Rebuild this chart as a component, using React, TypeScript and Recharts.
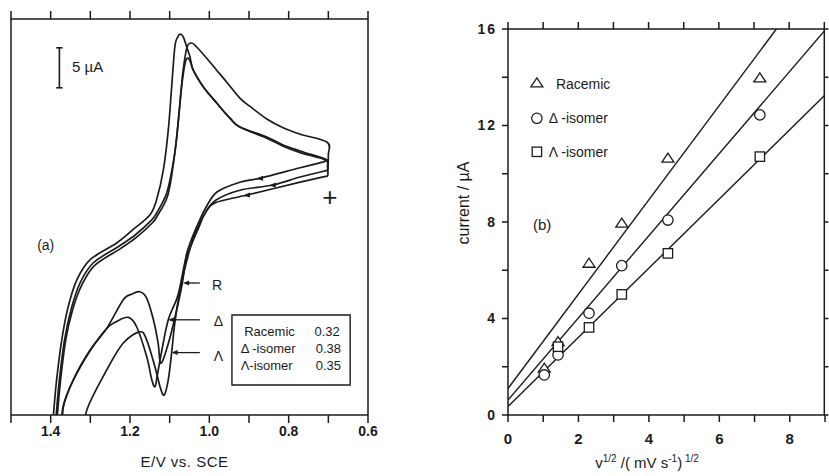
import {
  ComposedChart,
  Line,
  ReferenceArea,
  ReferenceDot,
  ReferenceLine,
  Scatter,
  XAxis,
  YAxis,
} from "recharts";

const INK = "#1b1b1b";
const FONT = '"Liberation Sans", Arial, Helvetica, sans-serif';

// ---- panel (a): cyclic voltammograms, [E / V vs SCE, current / µA above frame bottom]
// each loop: lower sweep from 0.7 V out past 1.38 V, then upper sweep back to 0.7 V
const racemicCV: [number, number][] = [
  [0.714, 31.6], [0.771, 30.9], [0.872, 29.6], [0.923, 29.1], [0.98, 27.9], [1.008, 26],
  [1.024, 24.4], [1.043, 22.2], [1.058, 20.0], [1.068, 16.5], [1.088, 11.9], [1.106, 8.5],
  [1.1226, 6.46], [1.129, 8.96], [1.141, 11.9], [1.158, 14.6], [1.175, 15.4], [1.196, 15.1],
  [1.217, 14.4], [1.259, 10.8], [1.301, 8.1], [1.343, 4.4], [1.368, 1.0], [1.374, -3],
  [1.397, -3], [1.392, 0.6], [1.385, 4.4], [1.372, 9.4], [1.356, 13.5], [1.334, 16.9],
  [1.301, 19.4], [1.2335, 21.5], [1.192, 23.2], [1.15, 25.0], [1.133, 26.9], [1.116, 30.6],
  [1.1035, 35.6], [1.095, 41.0], [1.087, 46.0], [1.08, 47.2], [1.074, 47.6], [1.066, 47.3],
  [1.057, 46.0], [1.049, 44.8], [1.0405, 43.1], [1.015, 41.0], [0.9815, 39.0], [0.948, 37.1],
  [0.923, 36.0], [0.855, 34.75], [0.814, 33.75], [0.771, 33], [0.708, 32], [0.706, 31.8],
  [0.714, 31.6],
];

const deltaCV: [number, number][] = [
  [0.701, 30.6], [0.771, 29.75], [0.84, 28.75], [0.923, 28.1], [0.982, 26.9], [1.01, 25.3],
  [1.027, 23.4], [1.046, 21.2], [1.061, 19.2], [1.079, 15.0], [1.1035, 11.9], [1.12, 8.0],
  [1.131, 5.0], [1.137, 3.54], [1.145, 4.4], [1.158, 7.3], [1.183, 11.0], [1.204, 12.2],
  [1.2335, 11.7], [1.259, 10.8], [1.301, 8.0], [1.344, 4.25], [1.369, 1.0], [1.375, -3],
  [1.389, -3], [1.385, 0.6], [1.378, 4.4], [1.365, 9.4], [1.348, 13.3], [1.326, 16.5],
  [1.293, 19.0], [1.228, 21.1], [1.187, 22.5], [1.147, 24.3], [1.133, 25.25], [1.1075, 27.75],
  [1.091, 31.5], [1.082, 34.8], [1.074, 39], [1.066, 43.1], [1.056, 46.0], [1.0445, 46.5],
  [1.032, 46.0], [1.0067, 44.6], [0.9815, 43.1], [0.956, 41.6], [0.923, 39.6], [0.898, 38.6],
  [0.855, 37], [0.814, 35.9], [0.771, 35.1], [0.703, 34.1], [0.7, 32.5], [0.701, 30.6],
];

const lambdaCV: [number, number][] = [
  [0.701, 29.9], [0.771, 29.1], [0.905, 27.5], [0.986, 26.5], [1.012, 25.1], [1.035, 22.8],
  [1.052, 20.2], [1.074, 15.6], [1.087, 11.5], [1.095, 7.8], [1.1035, 4.4], [1.114, 2.5],
  [1.124, 3.5], [1.137, 6.0], [1.158, 9.4], [1.175, 10.4], [1.217, 9.0], [1.259, 5.6],
  [1.309, 0.6], [1.316, -3],
  [1.386, -3], [1.382, 0.6], [1.375, 4.4], [1.362, 9.4], [1.345, 13.1], [1.322, 16.2],
  [1.289, 18.7], [1.224, 20.8], [1.184, 22.2], [1.144, 24.0], [1.13, 25.0], [1.104, 27.6],
  [1.087, 32.75], [1.078, 36.9], [1.07, 41.0], [1.061, 44.0], [1.0535, 44.6], [1.046, 43.9],
  [1.0405, 43.1], [1.015, 41.0], [0.9815, 39.0], [0.948, 37.1], [0.923, 36.0], [0.855, 34.6],
  [0.814, 33.6], [0.771, 32.8], [0.708, 31.9], [0.702, 31], [0.701, 29.9],
];

// potentials of the small sweep-direction arrowheads on the lower branches
const arrowR = 0.872;
const arrowD = 0.84;
const arrowL = 0.905;

const eTicks = [0.6, 0.7, 0.8, 0.9, 1.0, 1.1, 1.2, 1.3, 1.4, 1.5];
const peakRatios = ["0.32", "0.38", "0.35"];
const isomerNames = ["Racemic", "\u0394 -isomer", "\u039B-isomer"];

// ---- panel (b): peak current vs square root of scan rate
const sqrtRate = [1.03, 1.42, 2.3, 3.23, 4.54, 7.15];
const racemicPeak = [1.94, 3.04, 6.29, 7.95, 10.65, 13.97];
const deltaPeak = [1.66, 2.49, 4.22, 6.19, 8.08, 12.44];
const lambdaRate = [1.42, 2.3, 3.23, 4.54, 7.15];
const lambdaPeak = [2.83, 3.63, 5.0, 6.7, 10.71];

const racemicFit: [number, number][] = [[0, 1.1], [7.62, 16]];
const deltaFit: [number, number][] = [[0, 0.62], [9, 15.95]];
const lambdaFit: [number, number][] = [[0, 0.35], [9, 13.26]];

const rateTicks = [0, 1, 2, 3, 4, 5, 6, 7, 8, 9];
const currentTicks = [0, 2, 4, 6, 8, 10, 12, 14, 16];

// axis ranges of the two frames
const eMin = 0.6;
const eMax = 1.5;
const iMax = 49.5;
const rateMax = 9;
const currentMax = 16;

const cv = (a: [number, number][]) => a.map(([e, i]) => ({ e, i }));
const xy = (a: [number, number][]) => a.map(([x, y]) => ({ x, y }));
const zipXY = (xs: number[], ys: number[]) => xs.map((x, k) => ({ x, y: ys[k] }));

// frame edges and outward tick marks, as polylines broken by null gaps
const eFrame = [
  { e: eMax, i: 0 }, { e: eMax, i: iMax }, { e: eMin, i: iMax }, { e: eMin, i: 0 },
];
const eTopTicks = eTicks.flatMap((t) => [
  { e: t, i: iMax }, { e: t, i: iMax + 1 }, { e: t, i: null },
]);
const rateFrame = [
  { x: 0, y: currentMax }, { x: rateMax, y: currentMax }, { x: rateMax, y: 0 },
];
const rateTopTicks = rateTicks.flatMap((t) => [
  { x: t, y: currentMax }, { x: t, y: currentMax + 0.29 }, { x: t, y: null },
]);
const rateRightTicks = currentTicks.flatMap((v) => [
  { x: rateMax, y: v }, { x: rateMax + 0.12, y: v }, { x: rateMax + 0.12, y: null },
]);

// uniform Catmull-Rom through the points (works for loops, unlike monotone)
const smooth = (context: any) => {
  let pts: number[][] = [];
  return {
    areaStart() {},
    areaEnd() {},
    lineStart() {
      pts = [];
    },
    point(x: number, y: number) {
      pts.push([x, y]);
    },
    lineEnd() {
      if (!pts.length) return;
      context.moveTo(pts[0][0], pts[0][1]);
      for (let k = 0; k < pts.length - 1; k++) {
        const p0 = pts[k - 1] ?? pts[k];
        const p1 = pts[k];
        const p2 = pts[k + 1];
        const p3 = pts[k + 2] ?? p2;
        context.bezierCurveTo(
          p1[0] + (p2[0] - p0[0]) / 6,
          p1[1] + (p2[1] - p0[1]) / 6,
          p2[0] - (p3[0] - p1[0]) / 6,
          p2[1] - (p3[1] - p1[1]) / 6,
          p2[0],
          p2[1]
        );
      }
    },
  };
};

const arrowDot = (at: number) => (p: any) =>
  p.payload && p.payload.e === at ? (
    <path
      key={`a-${p.index}`}
      d={`M${p.cx - 4},${p.cy + 0.5} L${p.cx + 3},${p.cy - 2.5} L${p.cx + 3},${p.cy + 2.5} Z`}
      fill={INK}
    />
  ) : (
    <g key={`a-${p.index}`} />
  );

const note = (
  key: string,
  x: number,
  y: number,
  text: string,
  size = 13,
  anchor: "start" | "middle" | "end" = "start",
  weight = 400
) => (
  <ReferenceDot
    key={key}
    x={x}
    y={y}
    r={0}
    ifOverflow="visible"
    shape={(p: any) => (
      <text
        x={p.cx}
        y={p.cy}
        dy="0.35em"
        textAnchor={anchor}
        fontSize={size}
        fontWeight={weight}
        fontFamily={FONT}
        fill={INK}
      >
        {text}
      </text>
    )}
  />
);

const mark = (key: string, x: number, y: number, draw: (cx: number, cy: number) => any) => (
  <ReferenceDot key={key} x={x} y={y} r={0} ifOverflow="visible" shape={(p: any) => draw(p.cx, p.cy)} />
);

const seg = (key: string, x1: number, y1: number, x2: number, y2: number, w = 1.5) => (
  <ReferenceLine
    key={key}
    segment={[{ x: x1, y: y1 }, { x: x2, y: y2 }]}
    stroke={INK}
    strokeWidth={w}
    ifOverflow="visible"
  />
);

const tri = (cx: number, cy: number) => (
  <path
    d={`M${cx - 6},${cy + 4} L${cx + 6},${cy + 4} L${cx},${cy - 5} Z`}
    fill="#fff"
    stroke={INK}
    strokeWidth={1.3}
  />
);
const circ = (cx: number, cy: number) => (
  <circle cx={cx} cy={cy} r={5.2} fill="#fff" stroke={INK} strokeWidth={1.3} />
);
const sq = (cx: number, cy: number) => (
  <rect x={cx - 4.7} y={cy - 4.7} width={9.4} height={9.4} fill="#fff" stroke={INK} strokeWidth={1.3} />
);
const pointerHead = (cx: number, cy: number) => (
  <path d={`M${cx},${cy} L${cx + 6},${cy - 2.5} L${cx + 6},${cy + 2.5} Z`} fill={INK} />
);

const fmtE = (v: number) => {
  const k = Math.round(v * 10);
  return k % 2 === 0 && k <= 14 ? (k / 10).toFixed(1) : "";
};

const ETitle = ({ viewBox }: any) => (
  <text
    x={viewBox.x + viewBox.width / 2 - 5}
    y={viewBox.y + 52}
    textAnchor="middle"
    fontSize={15}
    fontFamily={FONT}
    letterSpacing={0.5}
    fill={INK}
  >
    E/V vs. SCE
  </text>
);

const RateTitle = ({ viewBox }: any) => (
  <text
    x={viewBox.x + 139}
    y={viewBox.y + 53}
    textAnchor="middle"
    fontSize={15}
    fontFamily={FONT}
    fill={INK}
  >
    <tspan>v</tspan>
    <tspan dy={-6} fontSize={10}>1/2</tspan>
    <tspan dy={6}> /( mV s</tspan>
    <tspan dy={-6} fontSize={10}>-1</tspan>
    <tspan dy={6}>)</tspan>
    <tspan dy={-6} fontSize={10}> 1/2</tspan>
  </text>
);

const CurrentTitle = ({ viewBox }: any) => {
  const x = viewBox.x + 43;
  const y = viewBox.y + 174;
  return (
    <text
      x={x}
      y={y}
      transform={`rotate(-90, ${x}, ${y})`}
      textAnchor="middle"
      dy="0.35em"
      fontSize={16}
      fontFamily={FONT}
      fill={INK}
    >
      current / µA
    </text>
  );
};

const axisTick = { fill: INK, fontSize: 14, fontWeight: 700, fontFamily: FONT };

function VoltammogramPanel() {
  return (
    <ComposedChart width={400} height={476} margin={{ top: 19, right: 32, bottom: 31, left: 11 }}>
      <XAxis
        type="number"
        dataKey="e"
        domain={[eMin, eMax]}
        reversed
        allowDataOverflow
        ticks={eTicks}
        interval={0}
        tickFormatter={fmtE}
        height={30}
        tickSize={8}
        tickMargin={3}
        stroke={INK}
        strokeWidth={1.5}
        tick={axisTick}
        label={{ content: ETitle }}
      />
      <YAxis type="number" domain={[0, iMax]} allowDataOverflow hide />

      <Line data={cv(racemicCV)} dataKey="i" type={smooth as any} stroke={INK} strokeWidth={1.7}
        dot={arrowDot(arrowR)} activeDot={false} isAnimationActive={false} />
      <Line data={cv(deltaCV)} dataKey="i" type={smooth as any} stroke={INK} strokeWidth={1.7}
        dot={arrowDot(arrowD)} activeDot={false} isAnimationActive={false} />
      <Line data={cv(lambdaCV)} dataKey="i" type={smooth as any} stroke={INK} strokeWidth={1.7}
        dot={arrowDot(arrowL)} activeDot={false} isAnimationActive={false} />

      {/* 5 µA scale bar */}
      {seg("sb", 1.378, 40.9, 1.378, 45.9, 1.6)}
      {seg("sbt", 1.386, 45.9, 1.37, 45.9, 1.6)}
      {seg("sbb", 1.386, 40.9, 1.37, 40.9, 1.6)}
      {note("scale", 1.346, 43.5, "5 µA", 15)}
      {note("a", 1.434, 21.2, "(a)", 14)}
      {note("plus", 0.696, 27.3, "+", 26, "middle", 300)}

      {/* curve pointers */}
      {seg("pR", 1.062, 16.5, 1.024, 16.5, 1.3)}
      {mark("hR", 1.066, 16.5, pointerHead)}
      {note("R", 0.993, 16.3, "R", 14)}
      {seg("pD", 1.1, 11.9, 1.024, 11.9, 1.3)}
      {mark("hD", 1.1035, 11.9, pointerHead)}
      {note("D", 0.989, 11.7, "\u0394", 14)}
      {seg("pL", 1.091, 7.8, 1.024, 7.8, 1.3)}
      {mark("hL", 1.095, 7.8, pointerHead)}
      {note("L", 0.989, 7.4, "\u039B", 14)}

      {/* peak-ratio box */}
      <ReferenceArea x1={0.943} x2={0.645} y1={3.75} y2={12.5} fill="#fff" fillOpacity={1}
        stroke={INK} strokeWidth={1.4} ifOverflow="visible" />
      {note("n0", 0.912, 10.4, isomerNames[0], 13)}
      {note("n1", 0.921, 8.3, isomerNames[1], 13)}
      {note("n2", 0.921, 6.2, isomerNames[2], 13)}
      {note("v0", 0.671, 10.4, peakRatios[0], 13, "end")}
      {note("v1", 0.668, 8.3, peakRatios[1], 13, "end")}
      {note("v2", 0.668, 6.2, peakRatios[2], 13, "end")}
    </ComposedChart>
  );
}

// overlay on the same scale (8 px per µA), one unit taller so the top ticks fit inside
function VoltammogramFrame() {
  return (
    <ComposedChart width={400} height={476} margin={{ top: 11, right: 32, bottom: 61, left: 11 }}>
      <XAxis type="number" dataKey="e" domain={[eMin, eMax]} reversed hide />
      <YAxis type="number" domain={[0, iMax + 1]} hide />
      <Line data={eFrame} dataKey="i" type="linear" stroke={INK} strokeWidth={1.5}
        dot={false} activeDot={false} isAnimationActive={false} />
      <Line data={eTopTicks} dataKey="i" type="linear" stroke={INK} strokeWidth={1.5}
        dot={false} activeDot={false} isAnimationActive={false} />
    </ComposedChart>
  );
}

function RatePanel() {
  return (
    <ComposedChart width={409} height={476} margin={{ top: 29, right: 4, bottom: 26, left: 0 }}>
      <XAxis
        type="number"
        dataKey="x"
        domain={[0, rateMax]}
        allowDataOverflow
        ticks={rateTicks}
        interval={0}
        tickFormatter={(v: number) => (v % 2 === 0 ? String(v) : "")}
        height={35}
        tickSize={7}
        tickMargin={11}
        stroke={INK}
        strokeWidth={1.5}
        tick={{ ...axisTick, fontSize: 15 }}
        label={{ content: RateTitle }}
      />
      <YAxis
        type="number"
        domain={[0, currentMax]}
        allowDataOverflow
        ticks={currentTicks}
        interval={0}
        tickFormatter={(v: number) => (v % 4 === 0 ? String(v) : "")}
        width={88}
        tickSize={6}
        tickMargin={5}
        stroke={INK}
        strokeWidth={1.5}
        tick={{ ...axisTick, letterSpacing: 2 }}
        label={{ content: CurrentTitle }}
      />

      <Line data={xy(racemicFit)} dataKey="y" type="linear" stroke={INK} strokeWidth={1.4}
        dot={false} activeDot={false} isAnimationActive={false} />
      <Line data={xy(deltaFit)} dataKey="y" type="linear" stroke={INK} strokeWidth={1.4}
        dot={false} activeDot={false} isAnimationActive={false} />
      <Line data={xy(lambdaFit)} dataKey="y" type="linear" stroke={INK} strokeWidth={1.4}
        dot={false} activeDot={false} isAnimationActive={false} />

      <Scatter data={zipXY(sqrtRate, racemicPeak)} dataKey="y" isAnimationActive={false}
        shape={(p: any) => tri(p.cx, p.cy)} />
      <Scatter data={zipXY(sqrtRate, deltaPeak)} dataKey="y" isAnimationActive={false}
        shape={(p: any) => circ(p.cx, p.cy)} />
      <Scatter data={zipXY(lambdaRate, lambdaPeak)} dataKey="y" isAnimationActive={false}
        shape={(p: any) => sq(p.cx, p.cy)} />

      {mark("lg0", 0.82, 13.77, tri)}
      {note("lt0", 1.36, 13.7, "Racemic", 14)}
      {mark("lg1", 0.82, 12.3, circ)}
      {note("lt1", 1.16, 12.3, "\u0394 -isomer", 14)}
      {mark("lg2", 0.82, 10.91, sq)}
      {note("lt2", 1.16, 10.91, "\u039B -isomer", 14)}
      {note("b", 0.71, 7.88, "(b)", 15)}
    </ComposedChart>
  );
}

// overlay on the same scale as RatePanel, widened a little so the outer ticks fit inside
function RateFrame() {
  return (
    <ComposedChart width={409} height={476} margin={{ top: 21.76, right: 0.48, bottom: 61, left: 88 }}>
      <XAxis type="number" dataKey="x" domain={[0, rateMax + 0.1]} hide />
      <YAxis type="number" domain={[0, currentMax + 0.3]} hide />
      <Line data={rateFrame} dataKey="y" type="linear" stroke={INK} strokeWidth={1.5}
        dot={false} activeDot={false} isAnimationActive={false} />
      <Line data={rateTopTicks} dataKey="y" type="linear" stroke={INK} strokeWidth={1.5}
        dot={false} activeDot={false} isAnimationActive={false} />
      <Line data={rateRightTicks} dataKey="y" type="linear" stroke={INK} strokeWidth={1.5}
        dot={false} activeDot={false} isAnimationActive={false} />
    </ComposedChart>
  );
}

const layer = (left: number) => ({ position: "absolute" as const, left, top: 0 });

export default function App() {
  return (
    <div
      style={{
        position: "absolute",
        left: 0,
        top: 0,
        width: 829,
        height: 476,
        background: "#fff",
        overflow: "hidden",
      }}
    >
      <div style={layer(0)}>
        <VoltammogramPanel />
      </div>
      <div style={layer(0)}>
        <VoltammogramFrame />
      </div>
      <div style={layer(420)}>
        <RatePanel />
      </div>
      <div style={layer(420)}>
        <RateFrame />
      </div>
    </div>
  );
}
